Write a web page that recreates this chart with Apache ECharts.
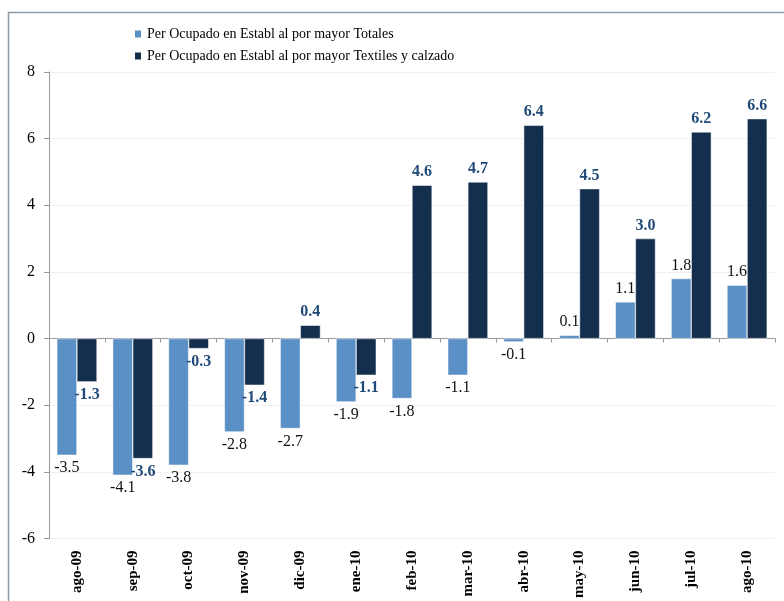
<!DOCTYPE html>
<html>
<head>
<meta charset="utf-8">
<script src="https://cdn.jsdelivr.net/npm/echarts@6/dist/echarts.min.js"></script>
<style>
  html, body { margin: 0; padding: 0; background: #fff; }
  #chart { width: 784px; height: 601px; }
</style>
</head>
<body>
<div id="chart"></div>
<script>
  // categorias y valores
  var categories = ['ago-09', 'sep-09', 'oct-09', 'nov-09', 'dic-09', 'ene-10', 'feb-10', 'mar-10', 'abr-10', 'may-10', 'jun-10', 'jul-10', 'ago-10'];
  var totales = [-3.5, -4.1, -3.8, -2.8, -2.7, -1.9, -1.8, -1.1, -0.1, 0.1, 1.1, 1.8, 1.6];
  var textiles = [-1.3, -3.6, -0.3, -1.4, 0.4, -1.1, 4.6, 4.7, 6.4, 4.5, 3.0, 6.2, 6.6];
  var seriesNames = ['Per Ocupado en Establ al por mayor Totales', 'Per Ocupado en Establ al por mayor Textiles y calzado'];
  var yTicks = [-6, -4, -2, 0, 2, 4, 6, 8];

  var fontSerif = '"Liberation Serif", "DejaVu Serif", serif';

  var chart = echarts.init(document.getElementById('chart'));

  // etiqueta arriba o abajo segun signo
  function withLabels(values, style) {
    return values.map(function (v) {
      return {
        value: v,
        label: Object.assign({ position: v < 0 ? 'bottom' : 'top' }, style)
      };
    });
  }

  var option = {
    animation: false,
    textStyle: { fontFamily: fontSerif },
    graphic: [{
      type: 'rect',
      shape: { x: 8.5, y: 12.5, width: 800, height: 620 },
      style: { fill: 'none', stroke: '#8e9aa6', lineWidth: 1.5 },
      silent: true
    }],
    legend: {
      orient: 'vertical',
      left: 128,
      top: 22,
      itemGap: 8,
      itemWidth: 8,
      itemHeight: 9,
      icon: 'rect',
      textStyle: { fontFamily: fontSerif, fontSize: 14, color: '#000' },
      data: seriesNames
    },
    grid: { left: 49, right: 9, top: 72, bottom: 62 },
    xAxis: [{
      type: 'category',
      data: categories,
      position: 'bottom',
      axisLine: { onZero: false, show: false },
      axisTick: { show: false },
      axisLabel: {
        rotate: 90,
        fontFamily: fontSerif,
        fontSize: 15,
        fontWeight: 'bold',
        color: '#000',
        margin: 12
      }
    }, {
      type: 'category',
      data: categories,
      position: 'bottom',
      axisLine: { onZero: true, lineStyle: { color: '#9a9a9a', width: 1 } },
      axisTick: { show: true, length: 4, lineStyle: { color: '#9a9a9a' } },
      axisLabel: { show: false }
    }],
    yAxis: {
      type: 'value',
      min: -6,
      max: 8,
      interval: 2,
      axisLine: { show: true, lineStyle: { color: '#9a9a9a' } },
      axisTick: { show: true, length: 5, lineStyle: { color: '#9a9a9a' } },
      splitLine: { lineStyle: { color: '#f0f0f0' } },
      axisLabel: {
        fontFamily: fontSerif,
        fontSize: 16,
        color: '#000',
        margin: 14,
        formatter: function (v) { return yTicks.indexOf(v) >= 0 ? String(v) : ''; }
      }
    },
    series: [{
      name: seriesNames[0],
      type: 'bar',
      xAxisIndex: 0,
      barGap: '0%',
      barCategoryGap: '28%',
      itemStyle: { color: '#5b90c6', borderColor: '#ffffff', borderWidth: 0.5 },
      label: { show: true, distance: 5 },
      data: withLabels(totales, {
        show: true,
        fontFamily: fontSerif,
        fontSize: 16,
        color: '#111',
        formatter: function (p) { return p.value.toFixed(1); }
      })
    }, {
      name: seriesNames[1],
      type: 'bar',
      xAxisIndex: 0,
      barGap: '0%',
      barCategoryGap: '28%',
      itemStyle: { color: '#142e4e', borderColor: '#ffffff', borderWidth: 0.5 },
      label: { show: true, distance: 5 },
      data: withLabels(textiles, {
        show: true,
        fontFamily: fontSerif,
        fontSize: 16,
        fontWeight: 'bold',
        color: '#1f4a78',
        formatter: function (p) { return p.value.toFixed(1); }
      })
    }]
  };

  chart.setOption(option);
</script>
</body>
</html>
